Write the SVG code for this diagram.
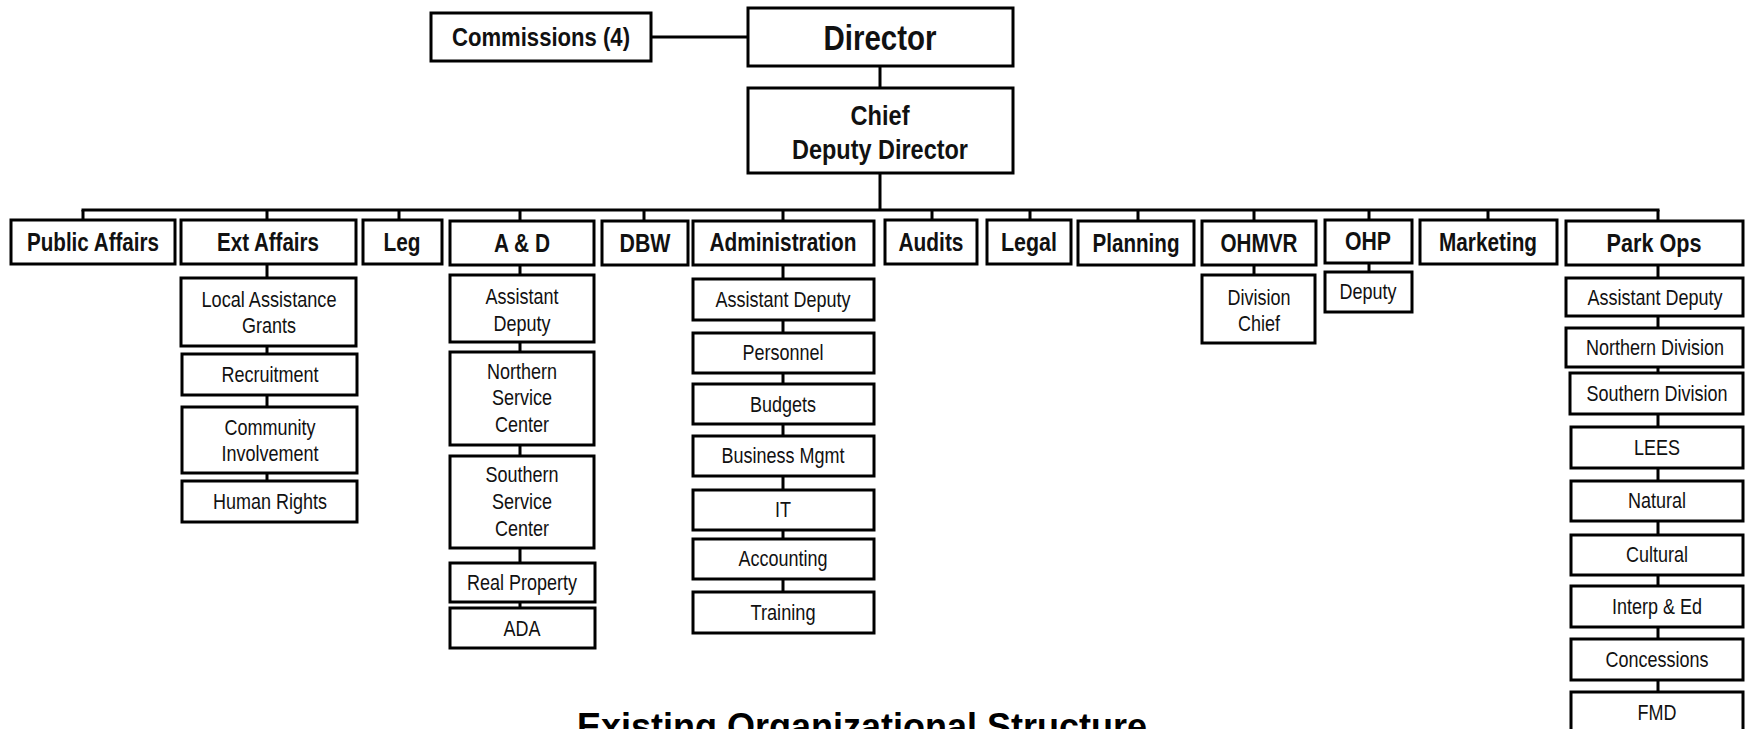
<svg xmlns="http://www.w3.org/2000/svg" width="1745" height="729" viewBox="0 0 1745 729">
<style>
.b{fill:#fff;stroke:#000;stroke-width:3}
.c{stroke:#000;stroke-width:3;fill:none}
text{font-family:"Liberation Sans",Arial,sans-serif;text-anchor:middle;fill:#111}
.h{font-weight:bold;font-size:25px}
.s{font-size:22px}
</style>
<rect width="1745" height="729" fill="#fff"/>
<g id="connectors">
<line class="c" x1="651" y1="37" x2="748" y2="37"/>
<line class="c" x1="880" y1="66" x2="880" y2="88"/>
<line class="c" x1="880" y1="173" x2="880" y2="210"/>
<line class="c" x1="81.5" y1="210" x2="1659.5" y2="210"/>
<path class="c" d="M83 210V220M267 210V220M399 210V220M520 210V220M644 210V220M783 210V220M932 210V220M1030 210V220M1138 210V220M1254 210V220M1369 210V220M1488 210V220M1658 210V220"/>
<path class="c" d="M267 264V481M520 264V608M783 264V592M1254 264V275M1369 264V272M1658 264V692"/>
</g>
<g id="director"><rect class="b" x="748" y="8" width="265" height="58"/><text class="h" x="880" y="50" style="font-size:35px" textLength="113" lengthAdjust="spacingAndGlyphs">Director</text></g>
<g id="commissions"><rect class="b" x="431" y="13" width="220" height="48"/><text class="h" x="541" y="46" textLength="178" lengthAdjust="spacingAndGlyphs">Commissions (4)</text></g>
<g id="chief"><rect class="b" x="748" y="88" width="265" height="85"/><text class="h" x="880" y="125" style="font-size:28px" textLength="59" lengthAdjust="spacingAndGlyphs">Chief</text><text class="h" x="880" y="159" style="font-size:28px" textLength="176" lengthAdjust="spacingAndGlyphs">Deputy Director</text></g>

<g id="public-affairs"><rect class="b" x="11" y="220" width="164" height="44"/><text class="h" x="93" y="251" textLength="132" lengthAdjust="spacingAndGlyphs">Public Affairs</text></g>
<g id="ext-affairs"><rect class="b" x="181" y="220" width="175" height="44"/><text class="h" x="268" y="251" textLength="102" lengthAdjust="spacingAndGlyphs">Ext Affairs</text></g>
<g id="leg"><rect class="b" x="363" y="220" width="79" height="44"/><text class="h" x="402" y="251" textLength="37" lengthAdjust="spacingAndGlyphs">Leg</text></g>
<g id="a-and-d"><rect class="b" x="450" y="221" width="144" height="44"/><text class="h" x="522" y="252" textLength="56" lengthAdjust="spacingAndGlyphs">A &amp; D</text></g>
<g id="dbw"><rect class="b" x="602" y="221" width="86" height="44"/><text class="h" x="645" y="252" textLength="51" lengthAdjust="spacingAndGlyphs">DBW</text></g>
<g id="administration"><rect class="b" x="693" y="221" width="181" height="44"/><text class="h" x="783" y="251" textLength="147" lengthAdjust="spacingAndGlyphs">Administration</text></g>
<g id="audits"><rect class="b" x="885" y="220" width="92" height="44"/><text class="h" x="931" y="251" textLength="65" lengthAdjust="spacingAndGlyphs">Audits</text></g>
<g id="legal"><rect class="b" x="987" y="220" width="84" height="44"/><text class="h" x="1029" y="251" textLength="56" lengthAdjust="spacingAndGlyphs">Legal</text></g>
<g id="planning"><rect class="b" x="1078" y="221" width="116" height="44"/><text class="h" x="1136" y="252" textLength="87" lengthAdjust="spacingAndGlyphs">Planning</text></g>
<g id="ohmvr"><rect class="b" x="1202" y="221" width="114" height="44"/><text class="h" x="1259" y="252" textLength="77" lengthAdjust="spacingAndGlyphs">OHMVR</text></g>
<g id="ohp"><rect class="b" x="1325" y="220" width="87" height="43"/><text class="h" x="1368" y="250" textLength="46" lengthAdjust="spacingAndGlyphs">OHP</text></g>
<g id="marketing"><rect class="b" x="1420" y="220" width="137" height="44"/><text class="h" x="1488" y="251" textLength="98" lengthAdjust="spacingAndGlyphs">Marketing</text></g>
<g id="park-ops"><rect class="b" x="1566" y="221" width="177" height="44"/><text class="h" x="1654" y="252" textLength="95" lengthAdjust="spacingAndGlyphs">Park Ops</text></g>

<g id="local-assistance-grants"><rect class="b" x="181" y="278" width="175" height="68"/><text class="s" x="269" y="307" textLength="135" lengthAdjust="spacingAndGlyphs">Local Assistance</text><text class="s" x="269" y="333" textLength="54" lengthAdjust="spacingAndGlyphs">Grants</text></g>
<g id="recruitment"><rect class="b" x="182" y="354" width="175" height="41"/><text class="s" x="270" y="382" textLength="97" lengthAdjust="spacingAndGlyphs">Recruitment</text></g>
<g id="community-involvement"><rect class="b" x="182" y="407" width="175" height="66"/><text class="s" x="270" y="435" textLength="91" lengthAdjust="spacingAndGlyphs">Community</text><text class="s" x="270" y="461" textLength="97" lengthAdjust="spacingAndGlyphs">Involvement</text></g>
<g id="human-rights"><rect class="b" x="182" y="481" width="175" height="41"/><text class="s" x="270" y="509" textLength="114" lengthAdjust="spacingAndGlyphs">Human Rights</text></g>

<g id="ad-assistant-deputy"><rect class="b" x="450" y="275" width="144" height="67"/><text class="s" x="522" y="304" textLength="73" lengthAdjust="spacingAndGlyphs">Assistant</text><text class="s" x="522" y="331" textLength="57" lengthAdjust="spacingAndGlyphs">Deputy</text></g>
<g id="northern-service-center"><rect class="b" x="450" y="352" width="144" height="93"/><text class="s" x="522" y="379" textLength="70" lengthAdjust="spacingAndGlyphs">Northern</text><text class="s" x="522" y="405" textLength="60" lengthAdjust="spacingAndGlyphs">Service</text><text class="s" x="522" y="432" textLength="54" lengthAdjust="spacingAndGlyphs">Center</text></g>
<g id="southern-service-center"><rect class="b" x="450" y="456" width="144" height="92"/><text class="s" x="522" y="482" textLength="73" lengthAdjust="spacingAndGlyphs">Southern</text><text class="s" x="522" y="509" textLength="60" lengthAdjust="spacingAndGlyphs">Service</text><text class="s" x="522" y="536" textLength="54" lengthAdjust="spacingAndGlyphs">Center</text></g>
<g id="real-property"><rect class="b" x="450" y="563" width="145" height="39"/><text class="s" x="522" y="590" textLength="110" lengthAdjust="spacingAndGlyphs">Real Property</text></g>
<g id="ada"><rect class="b" x="450" y="608" width="145" height="40"/><text class="s" x="522" y="636" textLength="37" lengthAdjust="spacingAndGlyphs">ADA</text></g>

<g id="adm-assistant-deputy"><rect class="b" x="693" y="279" width="181" height="41"/><text class="s" x="783" y="307" textLength="135" lengthAdjust="spacingAndGlyphs">Assistant Deputy</text></g>
<g id="personnel"><rect class="b" x="693" y="333" width="181" height="40"/><text class="s" x="783" y="360" textLength="81" lengthAdjust="spacingAndGlyphs">Personnel</text></g>
<g id="budgets"><rect class="b" x="693" y="384" width="181" height="40"/><text class="s" x="783" y="412" textLength="66" lengthAdjust="spacingAndGlyphs">Budgets</text></g>
<g id="business-mgmt"><rect class="b" x="693" y="436" width="181" height="40"/><text class="s" x="783" y="463" textLength="123" lengthAdjust="spacingAndGlyphs">Business Mgmt</text></g>
<g id="it"><rect class="b" x="693" y="490" width="181" height="40"/><text class="s" x="783" y="517" textLength="16" lengthAdjust="spacingAndGlyphs">IT</text></g>
<g id="accounting"><rect class="b" x="693" y="539" width="181" height="40"/><text class="s" x="783" y="566" textLength="89" lengthAdjust="spacingAndGlyphs">Accounting</text></g>
<g id="training"><rect class="b" x="693" y="592" width="181" height="41"/><text class="s" x="783" y="620" textLength="65" lengthAdjust="spacingAndGlyphs">Training</text></g>

<g id="division-chief"><rect class="b" x="1202" y="275" width="113" height="68"/><text class="s" x="1259" y="305" textLength="63" lengthAdjust="spacingAndGlyphs">Division</text><text class="s" x="1259" y="331" textLength="42" lengthAdjust="spacingAndGlyphs">Chief</text></g>
<g id="ohp-deputy"><rect class="b" x="1325" y="272" width="87" height="40"/><text class="s" x="1368" y="299" textLength="57" lengthAdjust="spacingAndGlyphs">Deputy</text></g>

<g id="po-assistant-deputy"><rect class="b" x="1566" y="278" width="177" height="38"/><text class="s" x="1655" y="305" textLength="135" lengthAdjust="spacingAndGlyphs">Assistant Deputy</text></g>
<g id="northern-division"><rect class="b" x="1566" y="328" width="177" height="39"/><text class="s" x="1655" y="355" textLength="138" lengthAdjust="spacingAndGlyphs">Northern Division</text></g>
<g id="southern-division"><rect class="b" x="1570" y="373" width="173" height="41"/><text class="s" x="1657" y="401" textLength="141" lengthAdjust="spacingAndGlyphs">Southern Division</text></g>
<g id="lees"><rect class="b" x="1571" y="427" width="172" height="41"/><text class="s" x="1657" y="455" textLength="46" lengthAdjust="spacingAndGlyphs">LEES</text></g>
<g id="natural"><rect class="b" x="1571" y="481" width="172" height="40"/><text class="s" x="1657" y="508" textLength="58" lengthAdjust="spacingAndGlyphs">Natural</text></g>
<g id="cultural"><rect class="b" x="1571" y="535" width="172" height="40"/><text class="s" x="1657" y="562" textLength="62" lengthAdjust="spacingAndGlyphs">Cultural</text></g>
<g id="interp-ed"><rect class="b" x="1571" y="586" width="172" height="41"/><text class="s" x="1657" y="614" textLength="90" lengthAdjust="spacingAndGlyphs">Interp &amp; Ed</text></g>
<g id="concessions"><rect class="b" x="1571" y="639" width="172" height="41"/><text class="s" x="1657" y="667" textLength="103" lengthAdjust="spacingAndGlyphs">Concessions</text></g>
<g id="fmd"><rect class="b" x="1571" y="692" width="172" height="48"/><text class="s" x="1657" y="720" textLength="39" lengthAdjust="spacingAndGlyphs">FMD</text></g>

<text x="862" y="739" style="font-family:'Liberation Sans',Arial,sans-serif;font-weight:bold;font-size:36px;fill:#000">Existing Organizational Structure</text>
</svg>
